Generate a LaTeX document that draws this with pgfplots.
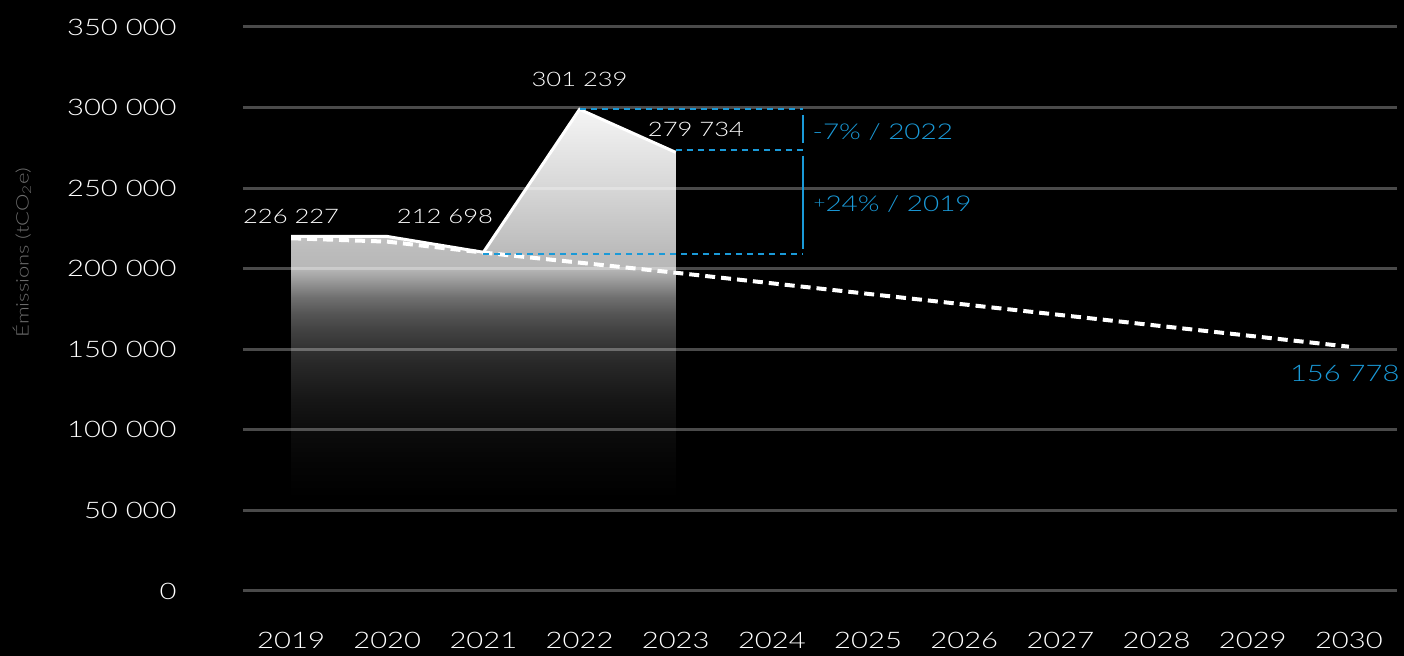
\documentclass[border=0pt]{standalone}
\usepackage{fontspec}
\setmainfont{Lato Light}[FakeStretch=1.28]
\usepackage{pgfplots}
\pgfplotsset{compat=1.18}
\usetikzlibrary{fadings}

\definecolor{bleu}{HTML}{1A9AD8}
\definecolor{grille}{HTML}{4A4A4A}
\definecolor{titre}{HTML}{6E6E6E}

% opacity of the white area: nearly opaque at the peak, gone towards zero
\pgfdeclareverticalshading{fonduS}{100bp}{
  rgb(0bp)=(0,0,0);
  rgb(34.75bp)=(0,0,0);
  rgb(38.3bp)=(0.02,0.02,0.02);
  rgb(41.7bp)=(0.047,0.047,0.047);
  rgb(45.1bp)=(0.09,0.09,0.09);
  rgb(48.65bp)=(0.157,0.157,0.157);
  rgb(50.3bp)=(0.2,0.2,0.2);
  rgb(52.1bp)=(0.259,0.259,0.259);
  rgb(53.8bp)=(0.333,0.333,0.333);
  rgb(55.5bp)=(0.44,0.44,0.44);
  rgb(57.8bp)=(0.66,0.66,0.66);
  rgb(58.5bp)=(0.72,0.72,0.72);
  rgb(60.4bp)=(0.737,0.737,0.737);
  rgb(67.6bp)=(0.855,0.855,0.855);
  rgb(75bp)=(0.96,0.96,0.96);
  rgb(100bp)=(0.96,0.96,0.96)}
\pgfdeclarefading{fondu}{\pgfuseshading{fonduS}}

\begin{document}
\begin{tikzpicture}
\fill[black] (-121.5pt,-32.5pt) rectangle (580.5pt,295.5pt);
\begin{axis}[
    at={(0,0)}, anchor=south west,
    scale only axis, width=577pt, height=282pt,
    xmin=2018.5, xmax=2030.5,
    ymin=0, ymax=350000,
    clip=false,
    axis line style={draw=none},
    major tick length=0pt,
    scaled y ticks=false,
    xtick={2019,2020,2021,2022,2023,2024,2025,2026,2027,2028,2029,2030},
    xticklabels={2019,2020,2021,2022,2023,2024,2025,2026,2027,2028,2029,2030},
    ytick={0,50000,100000,150000,200000,250000,300000,350000},
    yticklabels={0,50 000,100 000,150 000,200 000,250 000,300 000,350 000},
    ymajorgrids,
    major grid style={draw=grille, line width=1.5pt},
    tick label style={text=white, font=\fontsize{11.4}{13}\selectfont, inner sep=0pt},
    yticklabel style={xshift=-33pt},
    xticklabel style={yshift=-20.5pt},
    every node/.style={inner sep=0pt},
]
    % emissions as drawn
    \addplot[draw=none, fill=white, path fading=fondu]
    coordinates {(2019,220000) (2020,220000) (2021,210200) (2022,298900) (2023,272200)}
    \closedcycle;
    \addplot[white, line width=1.5pt]
    coordinates {(2019,220000) (2020,220000) (2021,210200) (2022,298900) (2023,272200)};

    % trajectory
    \addplot[white, line width=2pt, dash pattern=on 5pt off 3pt]
    coordinates {(2019,218900) (2020,216800) (2021,210000) (2023,197500) (2030,151600)};

    % comparison marks
    \addplot[bleu, line width=0.85pt, dash pattern=on 3pt off 2.5pt]
    coordinates {(2022,298900) (2024.32,298900)};
    \addplot[bleu, line width=0.85pt, dash pattern=on 3pt off 2.5pt]
    coordinates {(2023,273700) (2024.32,273700)};
    \addplot[bleu, line width=0.85pt, dash pattern=on 3pt off 2.5pt]
    coordinates {(2021,209100) (2024.32,209100)};
    \addplot[bleu, line width=0.85pt] coordinates {(2024.32,295400) (2024.32,277800)};
    \addplot[bleu, line width=0.85pt] coordinates {(2024.32,270100) (2024.32,212100)};

    \begin{scope}[every node/.style={text=white, inner sep=0pt, font=\fontsize{10}{12}\selectfont}]
    \node at (axis cs:2019,232700) {226 227};
    \node at (axis cs:2020.6,232700) {212 698};
    \node at (axis cs:2022,317700) {301 239};
    \node at (axis cs:2023.21,286700) {279 734};
    \end{scope}
    \begin{scope}[every node/.style={text=bleu, inner sep=0pt, font=\fontsize{10.9}{13}\selectfont}]
    \node[anchor=west] at (axis cs:2024.42,285000) {-7\% / 2022};
    \node[anchor=west] at (axis cs:2024.43,240300) {{\fontsize{8}{8}\selectfont\raisebox{1.5pt}{+}}24\% / 2019};
    \node[anchor=east, font=\fontsize{11.4}{14}\selectfont] at (axis cs:2030.53,134900) {156 778};
    \end{scope}
\end{axis}
\node[rotate=90, text=titre, inner sep=0pt, font=\fontsize{8.6}{10}\selectfont]
    at (-110.5pt,169.25pt) {Émissions (tCO\textsubscript{2}e)};
\pgfresetboundingbox
\path (-121.5pt,-32.5pt) rectangle (580.5pt,295.5pt);
\end{tikzpicture}
\end{document}
